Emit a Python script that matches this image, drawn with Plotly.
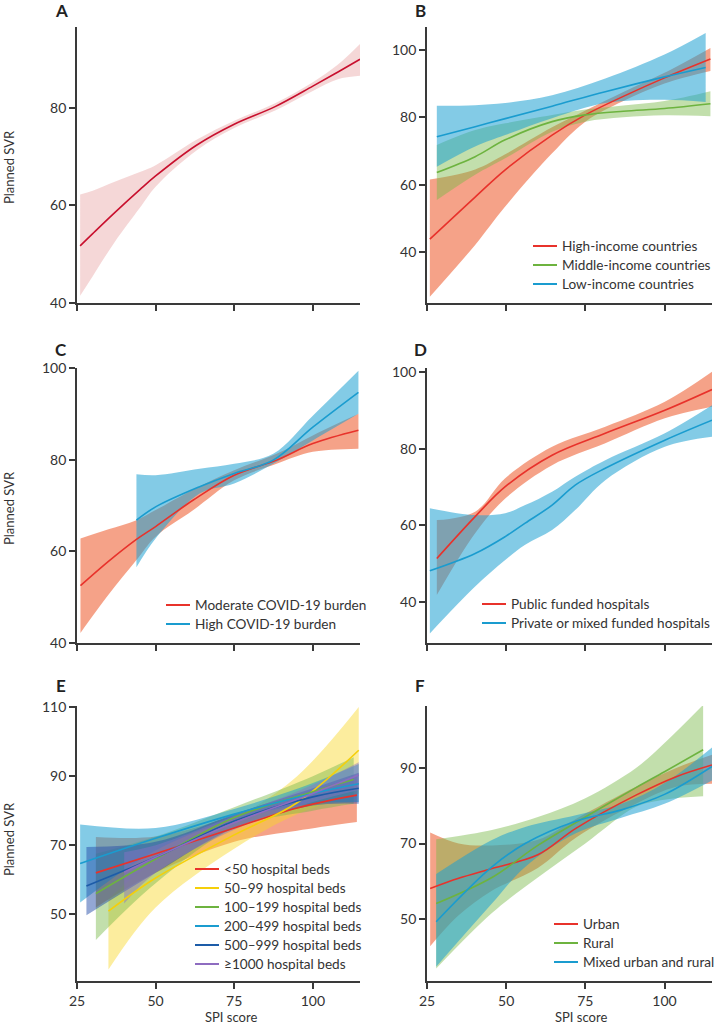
import plotly.graph_objects as go

# ---------------- DATA ----------------
TICKS_X = [25, 50, 75, 100]

# Panel A (overall)
A_x = [26, 30, 37, 45, 50, 63, 75, 88, 100, 108, 115]
A_mid = [51.7, 54.2, 58.5, 63.2, 66.0, 72.3, 76.6, 80.2, 84.4, 87.3, 89.9]
A_up = [62.2, 63.0, 64.8, 66.8, 68.2, 73.4, 77.3, 80.9, 85.2, 88.8, 93.0]
A_lo = [41.5, 45.5, 52.5, 59.5, 63.8, 71.2, 75.8, 79.4, 83.4, 85.8, 86.5]

# Panel B (income)
B_hi_x = [25.9, 40.2, 49.7, 64.5, 75, 87, 100, 114.5]
B_hi = [43.8, 56.3, 64.4, 74.7, 80.7, 86.2, 91.7, 97.3]
B_hi_up = [61.5, 64.5, 69.0, 77.0, 82.0, 87.5, 93.2, 100.6]
B_hi_lo = [26.7, 42.1, 53.5, 69.3, 78.7, 84.8, 90.0, 93.7]

B_mi_x = [28.1, 40.2, 49.7, 64.5, 75, 87, 100, 114.5]
B_mi = [63.6, 68.3, 73.3, 78.7, 80.7, 81.8, 82.6, 84.0]
B_mi_up = [71.8, 76.2, 78.2, 80.7, 82.3, 83.5, 84.8, 87.7]
B_mi_lo = [55.4, 62.9, 67.8, 75.7, 78.7, 80.0, 80.6, 80.3]

B_lo_x = [28.1, 40.2, 49.7, 64.5, 81.3, 100, 113]
B_lo = [74.2, 77.2, 79.6, 83.3, 87.6, 92.0, 94.8]
B_lo_up = [83.4, 83.6, 84.2, 86.5, 91.5, 98.6, 105.0]
B_lo_lo = [65.3, 71.3, 74.7, 79.7, 84.2, 85.2, 84.5]

# Panel C (COVID-19 burden)
C_mod_x = [26.1, 35, 43.9, 50, 62, 75, 88.5, 100, 114.5]
C_mod = [52.5, 57.8, 62.6, 65.4, 71.2, 76.6, 79.9, 83.5, 86.4]
C_mod_up = [62.8, 64.8, 66.8, 69.0, 73.5, 77.7, 81.3, 85.3, 90.0]
C_mod_lo = [42.2, 50.5, 58.1, 63.2, 69.0, 75.5, 79.1, 81.7, 82.4]

C_high_x = [43.9, 50, 64, 75, 87.4, 100, 114.5]
C_high = [66.8, 69.7, 74.1, 77.0, 79.9, 87.1, 94.7]
C_high_up = [76.8, 76.6, 78.0, 79.1, 81.3, 89.6, 99.4]
C_high_lo = [56.5, 62.8, 72.6, 74.8, 79.1, 84.2, 90.0]

# Panel D (funding)
D_pub_x = [28.1, 40.2, 49.7, 64.5, 81.3, 100.1, 115]
D_pub = [51.4, 62.3, 70.1, 78.3, 84.0, 90.0, 95.4]
D_pub_up = [61.4, 63.6, 72.3, 80.5, 85.7, 92.2, 100.0]
D_pub_lo = [41.9, 58.0, 67.0, 75.7, 81.4, 87.9, 90.9]

D_priv_x = [25.9, 40.2, 49.7, 56, 64.5, 71.8, 81.3, 100.1, 115]
D_priv = [48.2, 52.7, 57.1, 60.6, 65.3, 70.5, 74.9, 82.2, 87.4]
D_priv_up = [64.5, 62.7, 63.2, 65.3, 68.8, 72.7, 77.0, 84.0, 91.3]
D_priv_lo = [31.9, 44.1, 51.0, 55.0, 58.8, 64.0, 71.8, 80.5, 83.1]

# Panel E (hospital beds)
E_lt50_x = [31, 50, 75, 95, 114]
E_lt50 = [62.0, 67.5, 75.0, 80.8, 84.5]
E_lt50_up = [72.4, 72.5, 78.5, 84.5, 90.0]
E_lt50_lo = [52.0, 62.0, 71.0, 74.2, 76.7]

E_50_x = [35, 50, 75, 95, 114.6]
E_50 = [50.9, 60.5, 73.0, 82.3, 97.5]
E_50_up = [54.5, 65.5, 77.5, 90.0, 110.0]
E_50_lo = [34.0, 52.0, 69.0, 79.0, 85.0]

E_100_x = [31, 50, 75, 100, 113]
E_100 = [56.0, 66.0, 78.0, 85.5, 89.0]
E_100_up = [67.5, 72.5, 81.0, 90.0, 95.5]
E_100_lo = [42.6, 59.0, 75.0, 80.0, 82.0]

E_200_x = [26, 50, 75, 100, 114.6]
E_200 = [64.7, 72.0, 79.0, 85.0, 87.8]
E_200_up = [76.0, 75.0, 80.5, 88.0, 93.5]
E_200_lo = [53.4, 68.5, 77.5, 82.0, 82.5]

E_500_x = [28, 50, 75, 100, 114.6]
E_500 = [58.2, 66.5, 77.0, 84.0, 86.5]
E_500_up = [69.5, 71.0, 79.0, 86.5, 91.0]
E_500_lo = [49.7, 62.0, 75.0, 81.5, 82.0]

E_1000_x = [40, 50, 75, 100, 114.6]
E_1000 = [62.2, 66.5, 76.5, 85.0, 90.3]
E_1000_up = [68.0, 70.0, 78.5, 87.5, 94.0]
E_1000_lo = [53.1, 62.0, 74.5, 82.5, 86.0]

# Panel F (setting)
F_urb_x = [26, 35, 45.5, 60, 72, 91, 103.7, 115]
F_urb = [58.1, 60.8, 63.4, 67.0, 74.0, 82.8, 87.7, 90.8]
F_urb_up = [72.9, 70.0, 69.5, 71.0, 76.5, 85.0, 90.0, 93.5]
F_urb_lo = [42.8, 51.0, 57.5, 63.5, 71.5, 80.5, 85.0, 85.8]

F_rur_x = [27.9, 45.5, 60, 75, 91, 100, 112.2]
F_rur = [54.1, 61.0, 69.5, 77.0, 84.8, 89.0, 94.8]
F_rur_up = [71.1, 73.6, 77.0, 82.0, 90.0, 96.6, 106.7]
F_rur_lo = [36.9, 51.6, 61.0, 70.0, 79.7, 81.6, 82.5]

F_mix_x = [27.9, 45.5, 56, 72, 86.4, 100, 115]
F_mix = [49.3, 63.8, 70.0, 75.9, 78.9, 83.0, 90.4]
F_mix_up = [61.9, 70.9, 74.4, 77.5, 80.5, 86.0, 95.4]
F_mix_lo = [37.4, 54.1, 63.8, 72.7, 76.8, 80.5, 86.7]

# ---------------- STYLE ----------------
W, H = 714, 1027
FONT = "Lato"
AX_COL = "#3a3a3a"
TXT_COL = "#333333"

RED = ("#e8322b", "rgba(238,95,50,0.58)")
GRN = ("#6db33f", "rgba(120,185,70,0.45)")
BLU = ("#1a9ccf", "rgba(30,160,210,0.55)")
YEL = ("#f5cf0a", "rgba(248,215,40,0.45)")
DBL = ("#1d5ca8", "rgba(40,80,170,0.5)")
PUR = ("#8e6cc0", "rgba(140,110,200,0.45)")
CRIM = ("#c8102e", "rgba(226,140,140,0.35)")


def px_x(p):
    return p / W


def px_y(p):
    return 1 - p / H


panels = {
    1: dict(xd=(77, 360), yd=(27, 303), yr=(40, 96.5), yt=[40, 60, 80], xl=False),
    2: dict(xd=(427, 712), yd=(27, 303), yr=(24.85, 106.8), yt=[40, 60, 80, 100], xl=False),
    3: dict(xd=(77, 360), yd=(368, 643), yr=(40, 100), yt=[40, 60, 80, 100], xl=False),
    4: dict(xd=(427, 712), yd=(368, 643), yr=(29.4, 101), yt=[40, 60, 80, 100], xl=False),
    5: dict(xd=(77, 360), yd=(706, 981), yr=(30.7, 110.3), yt=[50, 70, 90, 110], xl=True),
    6: dict(xd=(427, 712), yd=(706, 981), yr=(33.6, 106.4), yt=[50, 70, 90], xl=True),
}

fig = go.Figure()


def band(n, x, up, lo, fillcol):
    xa = "x" if n == 1 else f"x{n}"
    ya = "y" if n == 1 else f"y{n}"
    fig.add_trace(go.Scatter(x=x, y=lo, mode="lines", line=dict(width=0, shape="spline", smoothing=1.0),
                             xaxis=xa, yaxis=ya, showlegend=False, hoverinfo="skip"))
    fig.add_trace(go.Scatter(x=x, y=up, mode="lines", line=dict(width=0, shape="spline", smoothing=1.0),
                             fill="tonexty", fillcolor=fillcol,
                             xaxis=xa, yaxis=ya, showlegend=False, hoverinfo="skip"))


def line(n, x, y, col, name=""):
    xa = "x" if n == 1 else f"x{n}"
    ya = "y" if n == 1 else f"y{n}"
    fig.add_trace(go.Scatter(x=x, y=y, mode="lines", name=name, showlegend=False,
                             line=dict(color=col, width=1.6, shape="spline", smoothing=1.0),
                             xaxis=xa, yaxis=ya))


legend_items = []

# A
band(1, A_x, A_up, A_lo, CRIM[1])
line(1, A_x, A_mid, CRIM[0], "All")

B_series = [
    (B_hi_x, B_hi, B_hi_up, B_hi_lo, RED, "High-income countries"),
    (B_mi_x, B_mi, B_mi_up, B_mi_lo, GRN, "Middle-income countries"),
    (B_lo_x, B_lo, B_lo_up, B_lo_lo, BLU, "Low-income countries"),
]
C_series = [
    (C_mod_x, C_mod, C_mod_up, C_mod_lo, RED, "Moderate COVID-19 burden"),
    (C_high_x, C_high, C_high_up, C_high_lo, BLU, "High COVID-19 burden"),
]
D_series = [
    (D_pub_x, D_pub, D_pub_up, D_pub_lo, RED, "Public funded hospitals"),
    (D_priv_x, D_priv, D_priv_up, D_priv_lo, BLU, "Private or mixed funded hospitals"),
]
E_series = [
    (E_lt50_x, E_lt50, E_lt50_up, E_lt50_lo, RED, "<50 hospital beds"),
    (E_50_x, E_50, E_50_up, E_50_lo, YEL, "50–99 hospital beds"),
    (E_100_x, E_100, E_100_up, E_100_lo, GRN, "100–199 hospital beds"),
    (E_200_x, E_200, E_200_up, E_200_lo, BLU, "200–499 hospital beds"),
    (E_500_x, E_500, E_500_up, E_500_lo, DBL, "500–999 hospital beds"),
    (E_1000_x, E_1000, E_1000_up, E_1000_lo, PUR, "≥1000 hospital beds"),
]
F_series = [
    (F_urb_x, F_urb, F_urb_up, F_urb_lo, RED, "Urban"),
    (F_rur_x, F_rur, F_rur_up, F_rur_lo, GRN, "Rural"),
    (F_mix_x, F_mix, F_mix_up, F_mix_lo, BLU, "Mixed urban and rural"),
]

legend_pos = {2: (533, 246), 3: (166, 605), 4: (482, 604), 5: (195, 869), 6: (554, 924)}

for n, series in [(2, B_series), (3, C_series), (4, D_series), (5, E_series), (6, F_series)]:
    for x, m, u, l, c, nm in series:
        band(n, x, u, l, c[1])
    for x, m, u, l, c, nm in series:
        line(n, x, m, c[0], nm)
    legend_items.append((legend_pos[n], [(s[5], s[4][0]) for s in series]))

# ---------------- AXES ----------------
layout = {}
for n, p in panels.items():
    xk = "xaxis" if n == 1 else f"xaxis{n}"
    yk = "yaxis" if n == 1 else f"yaxis{n}"
    ya = "y" if n == 1 else f"y{n}"
    xa = "x" if n == 1 else f"x{n}"
    common = dict(showline=True, linecolor=AX_COL, linewidth=1.8, ticks="outside", ticklen=6,
                  tickwidth=1.5, tickcolor=AX_COL, showgrid=False, zeroline=False, automargin=False,
                  tickfont=dict(family=FONT, size=14, color=TXT_COL))
    layout[xk] = dict(domain=[px_x(p["xd"][0]), px_x(p["xd"][1])], range=[25, 115],
                      tickvals=TICKS_X, showticklabels=p["xl"], anchor=ya, **common)
    layout[yk] = dict(domain=[px_y(p["yd"][1]), px_y(p["yd"][0])], range=list(p["yr"]),
                      tickvals=p["yt"], anchor=xa, **common)

annotations = []
shapes = []
ROW = 19
LEG_FONT = 13.6
for (lx, ly), items in legend_items:
    for i, (nm, col) in enumerate(items):
        yy = ly + i * ROW
        shapes.append(dict(type="line", xref="paper", yref="paper", x0=px_x(lx), x1=px_x(lx + 24),
                           y0=px_y(yy), y1=px_y(yy), line=dict(color=col, width=2)))
        annotations.append(dict(text=nm, x=px_x(lx + 27), y=px_y(yy), xref="paper", yref="paper",
                                showarrow=False, xanchor="left", yanchor="middle",
                                font=dict(family=FONT, size=LEG_FONT, color=TXT_COL)))

for lab, (xp, yp) in zip("ABCDEF", [(61, 11), (420, 11), (61, 349), (420, 349), (61, 685), (420, 685)]):
    annotations.append(dict(text=f"<b>{lab}</b>", x=px_x(xp), y=px_y(yp), xref="paper", yref="paper",
                            showarrow=False, xanchor="center", yanchor="middle",
                            font=dict(family=FONT, size=17, color="#222222")))
for yp in [167, 508, 839]:
    annotations.append(dict(text="Planned SVR", x=px_x(9), y=px_y(yp), xref="paper", yref="paper",
                            showarrow=False, textangle=-90, xanchor="center", yanchor="middle",
                            font=dict(family=FONT, size=13, color=TXT_COL)))
for xp in [231, 581]:
    annotations.append(dict(text="SPI score", x=px_x(xp), y=px_y(1017), xref="paper", yref="paper",
                            showarrow=False, xanchor="center", yanchor="middle",
                            font=dict(family=FONT, size=13, color=TXT_COL)))

fig.update_layout(width=W, height=H, margin=dict(l=0, r=0, t=0, b=0, autoexpand=False),
                  paper_bgcolor="white", plot_bgcolor="white", showlegend=False,
                  font=dict(family=FONT, color=TXT_COL), annotations=annotations, shapes=shapes, **layout)

fig.write_html("out.html", config={"displayModeBar": False},
               post_script="document.body.style.margin='0';document.body.style.overflow='hidden';")
